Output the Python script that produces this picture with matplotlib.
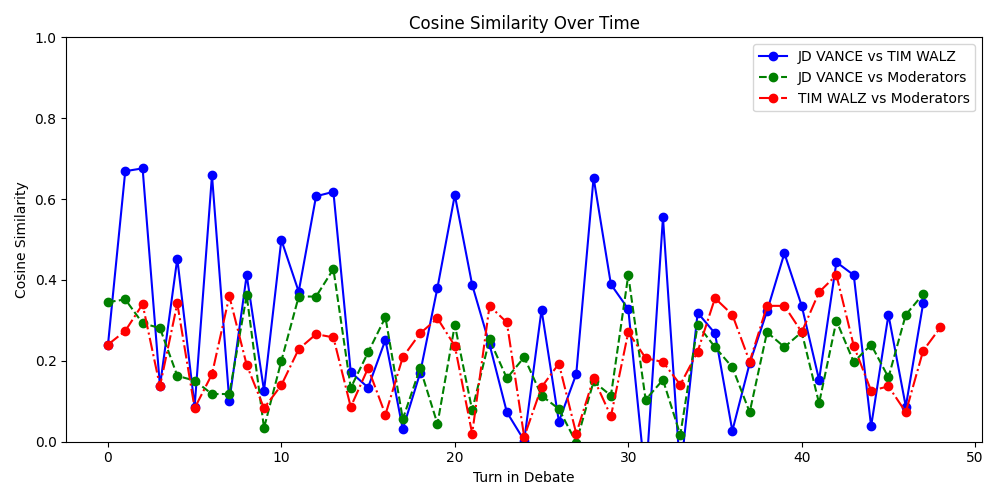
import matplotlib
matplotlib.use("Agg")
import matplotlib.pyplot as plt

# cosine similarity per debate turn
vance_walz = [0.238, 0.669, 0.676, 0.137, 0.453, 0.087, 0.659, 0.100, 0.412, 0.126,
              0.499, 0.371, 0.607, 0.618, 0.172, 0.134, 0.252, 0.031, 0.170, 0.381,
              0.610, 0.388, 0.241, 0.073, 0.003, 0.326, 0.050, 0.167, 0.653, 0.389,
              0.328, -0.098, 0.555, -0.080, 0.319, 0.268, 0.027, 0.194, 0.323, 0.466,
              0.336, 0.153, 0.444, 0.412, 0.038, 0.314, 0.087, 0.342]
vance_mod = [0.345, 0.352, 0.293, 0.281, 0.163, 0.151, 0.118, 0.118, 0.362, 0.034,
             0.200, 0.359, 0.359, 0.427, 0.133, 0.221, 0.308, 0.056, 0.182, 0.044,
             0.289, 0.078, 0.253, 0.157, 0.209, 0.114, 0.081, -0.002, 0.149, 0.114,
             0.412, 0.104, 0.153, 0.017, 0.289, 0.234, 0.184, 0.073, 0.271, 0.234,
             0.271, 0.095, 0.299, 0.197, 0.240, 0.159, 0.314, 0.365]
walz_mod = [0.240, 0.274, 0.340, 0.137, 0.342, 0.083, 0.167, 0.360, 0.190, 0.083,
            0.140, 0.229, 0.266, 0.258, 0.086, 0.182, 0.067, 0.209, 0.268, 0.305,
            0.237, 0.020, 0.336, 0.295, 0.012, 0.135, 0.193, 0.020, 0.157, 0.063,
            0.271, 0.207, 0.197, 0.141, 0.223, 0.355, 0.314, 0.198, 0.336, 0.336,
            0.271, 0.370, 0.412, 0.237, 0.126, 0.137, 0.073, 0.225, 0.283]

fig, ax = plt.subplots(figsize=(10, 5))

ax.plot(range(len(vance_walz)), vance_walz, marker="o", linestyle="-",
        color="blue", label="JD VANCE vs TIM WALZ")
ax.plot(range(len(vance_mod)), vance_mod, marker="o", linestyle="--",
        color="green", label="JD VANCE vs Moderators")
ax.plot(range(len(walz_mod)), walz_mod, marker="o", linestyle="-.",
        color="red", label="TIM WALZ vs Moderators")

ax.set_ylim(0, 1)
ax.set_title("Cosine Similarity Over Time")
ax.set_xlabel("Turn in Debate")
ax.set_ylabel("Cosine Similarity")
ax.legend(loc="upper right")

fig.tight_layout()
fig.savefig("out.png", dpi=100)
